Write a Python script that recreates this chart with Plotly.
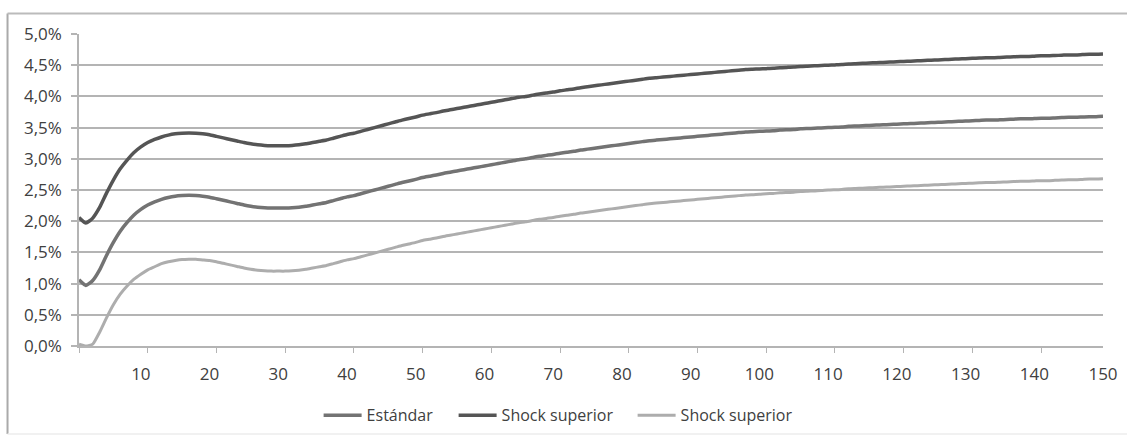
import plotly.graph_objects as go

periods = list(range(1, 151))

estandar = [
    1.06, 0.97, 1.05, 1.22, 1.45, 1.66, 1.84, 1.98, 2.10, 2.19,
    2.26, 2.31, 2.35, 2.38, 2.40, 2.41, 2.415, 2.41, 2.40, 2.385,
    2.36, 2.335, 2.31, 2.285, 2.26, 2.24, 2.225, 2.215, 2.21, 2.21,
    2.21, 2.215, 2.225, 2.24, 2.26, 2.28, 2.30, 2.33, 2.36, 2.39,
    2.41, 2.44, 2.47, 2.50, 2.53, 2.56, 2.59, 2.62, 2.645, 2.67,
    2.70, 2.72, 2.74, 2.765, 2.785, 2.805, 2.825, 2.845, 2.865, 2.885,
    2.905, 2.925, 2.945, 2.965, 2.985, 3.00, 3.02, 3.04, 3.055, 3.07,
    3.09, 3.105, 3.12, 3.14, 3.155, 3.17, 3.185, 3.20, 3.215, 3.23,
    3.245, 3.26, 3.275, 3.29, 3.30, 3.31, 3.32, 3.33, 3.34, 3.35,
    3.36, 3.37, 3.38, 3.39, 3.40, 3.41, 3.42, 3.43, 3.435, 3.44,
    3.445, 3.45, 3.46, 3.465, 3.47, 3.48, 3.485, 3.49, 3.495, 3.50,
    3.505, 3.51, 3.52, 3.525, 3.53, 3.535, 3.54, 3.545, 3.55, 3.555,
    3.56, 3.565, 3.57, 3.575, 3.58, 3.585, 3.59, 3.595, 3.60, 3.605,
    3.61, 3.615, 3.62, 3.62, 3.625, 3.63, 3.635, 3.64, 3.64, 3.645,
    3.65, 3.65, 3.655, 3.66, 3.665, 3.665, 3.67, 3.675, 3.675, 3.68,
]

shock_alto = [
    2.06, 1.97, 2.05, 2.22, 2.45, 2.66, 2.84, 2.98, 3.10, 3.19,
    3.26, 3.31, 3.35, 3.38, 3.40, 3.41, 3.415, 3.41, 3.40, 3.385,
    3.36, 3.335, 3.31, 3.285, 3.26, 3.24, 3.225, 3.215, 3.21, 3.21,
    3.21, 3.215, 3.225, 3.24, 3.26, 3.28, 3.30, 3.33, 3.36, 3.39,
    3.41, 3.44, 3.47, 3.50, 3.53, 3.56, 3.59, 3.62, 3.645, 3.67,
    3.70, 3.72, 3.74, 3.765, 3.785, 3.805, 3.825, 3.845, 3.865, 3.885,
    3.905, 3.925, 3.945, 3.965, 3.985, 4.00, 4.02, 4.04, 4.055, 4.07,
    4.09, 4.105, 4.12, 4.14, 4.155, 4.17, 4.185, 4.20, 4.215, 4.23,
    4.245, 4.26, 4.275, 4.29, 4.30, 4.31, 4.32, 4.33, 4.34, 4.35,
    4.36, 4.37, 4.38, 4.39, 4.40, 4.41, 4.42, 4.43, 4.435, 4.44,
    4.445, 4.45, 4.46, 4.465, 4.47, 4.48, 4.485, 4.49, 4.495, 4.50,
    4.505, 4.51, 4.52, 4.525, 4.53, 4.535, 4.54, 4.545, 4.55, 4.555,
    4.56, 4.565, 4.57, 4.575, 4.58, 4.585, 4.59, 4.595, 4.60, 4.605,
    4.61, 4.615, 4.62, 4.62, 4.625, 4.63, 4.635, 4.64, 4.64, 4.645,
    4.65, 4.65, 4.655, 4.66, 4.665, 4.665, 4.67, 4.675, 4.675, 4.68,
]

shock_bajo = [
    0.03, 0.00, 0.03, 0.22, 0.45, 0.66, 0.83, 0.96, 1.07, 1.15,
    1.22, 1.27, 1.32, 1.35, 1.37, 1.385, 1.39, 1.39, 1.38, 1.37,
    1.35, 1.325, 1.30, 1.275, 1.25, 1.23, 1.215, 1.205, 1.20, 1.20,
    1.20, 1.205, 1.215, 1.23, 1.25, 1.27, 1.29, 1.32, 1.35, 1.38,
    1.40, 1.43, 1.46, 1.49, 1.52, 1.55, 1.58, 1.61, 1.635, 1.66,
    1.69, 1.71, 1.73, 1.755, 1.775, 1.795, 1.815, 1.835, 1.855, 1.875,
    1.895, 1.915, 1.935, 1.955, 1.975, 1.99, 2.01, 2.03, 2.045, 2.06,
    2.08, 2.095, 2.11, 2.13, 2.145, 2.16, 2.175, 2.19, 2.205, 2.22,
    2.235, 2.25, 2.265, 2.28, 2.29, 2.30, 2.31, 2.32, 2.33, 2.34,
    2.35, 2.36, 2.37, 2.38, 2.39, 2.40, 2.41, 2.42, 2.425, 2.43,
    2.44, 2.445, 2.455, 2.46, 2.465, 2.475, 2.48, 2.485, 2.49, 2.50,
    2.505, 2.51, 2.52, 2.525, 2.53, 2.535, 2.54, 2.545, 2.55, 2.555,
    2.56, 2.565, 2.57, 2.575, 2.58, 2.585, 2.59, 2.595, 2.60, 2.605,
    2.61, 2.615, 2.62, 2.62, 2.625, 2.63, 2.635, 2.64, 2.64, 2.645,
    2.65, 2.65, 2.655, 2.66, 2.665, 2.665, 2.67, 2.675, 2.675, 2.68,
]

series_names = ["Estándar", "Shock superior", "Shock superior"]
series_colors = ["#737373", "#555555", "#adadad"]
series_widths = [3.5, 3.5, 3]
legend_widths = [82, 126, 112]

y_tickvals = [0, 0.5, 1, 1.5, 2, 2.5, 3, 3.5, 4, 4.5, 5]
y_ticktext = ["0,0%", "0,5%", "1,0%", "1,5%", "2,0%", "2,5%", "3,0%", "3,5%", "4,0%", "4,5%", "5,0%"]
x_tickvals = list(range(10, 151, 10))
x_ticktext = [str(v) for v in x_tickvals]

fig = go.Figure()
for name, vals, col, w, lw in zip(series_names, [estandar, shock_alto, shock_bajo],
                                  series_colors, series_widths, legend_widths):
    fig.add_trace(go.Scatter(
        x=periods, y=vals, mode="lines", name=name, legendwidth=lw,
        line=dict(color=col, width=w, shape="spline", smoothing=0.5),
    ))

font_color = "#404040"
grid_color = "#b4b4b4"
font_family = "Open Sans, Liberation Sans, Arial, sans-serif"

fig.update_layout(
    width=1127, height=438,
    margin=dict(l=79, r=24, t=34, b=92, autoexpand=False),
    paper_bgcolor="white", plot_bgcolor="white",
    font=dict(family=font_family, size=17, color=font_color),
    showlegend=True,
    legend=dict(
        orientation="h", x=0.234, xanchor="left", y=-0.222, yanchor="middle",
        font=dict(family=font_family, size=16, color=font_color), itemwidth=38,
        tracegroupgap=0, bgcolor="rgba(0,0,0,0)",
    ),
    xaxis=dict(
        range=[1, 150], tickmode="array", tickvals=x_tickvals, ticktext=x_ticktext,
        ticks="", showgrid=False, zeroline=False, automargin=False,
        showline=True, linecolor=grid_color, linewidth=1.5,
        ticklabelstandoff=12, tickfont=dict(size=17),
        minor=dict(tickmode="array", tickvals=list(range(1, 150, 10)), ticks="outside",
                   ticklen=5, tickcolor=grid_color, tickwidth=1, showgrid=False),
    ),
    yaxis=dict(
        range=[0, 5], tickmode="array", tickvals=y_tickvals, ticktext=y_ticktext,
        ticks="outside", ticklen=6, tickcolor=grid_color, tickwidth=1.5,
        showgrid=True, gridcolor=grid_color, gridwidth=1.5, zeroline=False, automargin=False,
        showline=True, linecolor=grid_color, linewidth=1.5,
        ticklabelstandoff=6, tickfont=dict(size=17),
    ),
    shapes=[
        dict(type="line", xref="paper", yref="paper", x0=-0.0698, x1=-0.0698, y0=1.0657, y1=-0.282,
             line=dict(color="#aaaaaa", width=2)),
        dict(type="line", xref="paper", yref="paper", x0=-0.0698, x1=1.05, y0=1.0657, y1=1.0657,
             line=dict(color="#bbbbbb", width=2)),
        dict(type="line", xref="paper", yref="paper", x0=-0.0698, x1=1.05, y0=-0.282, y1=-0.282,
             line=dict(color="#ececec", width=1.5)),
    ],
)

fig.write_html("out.html")
